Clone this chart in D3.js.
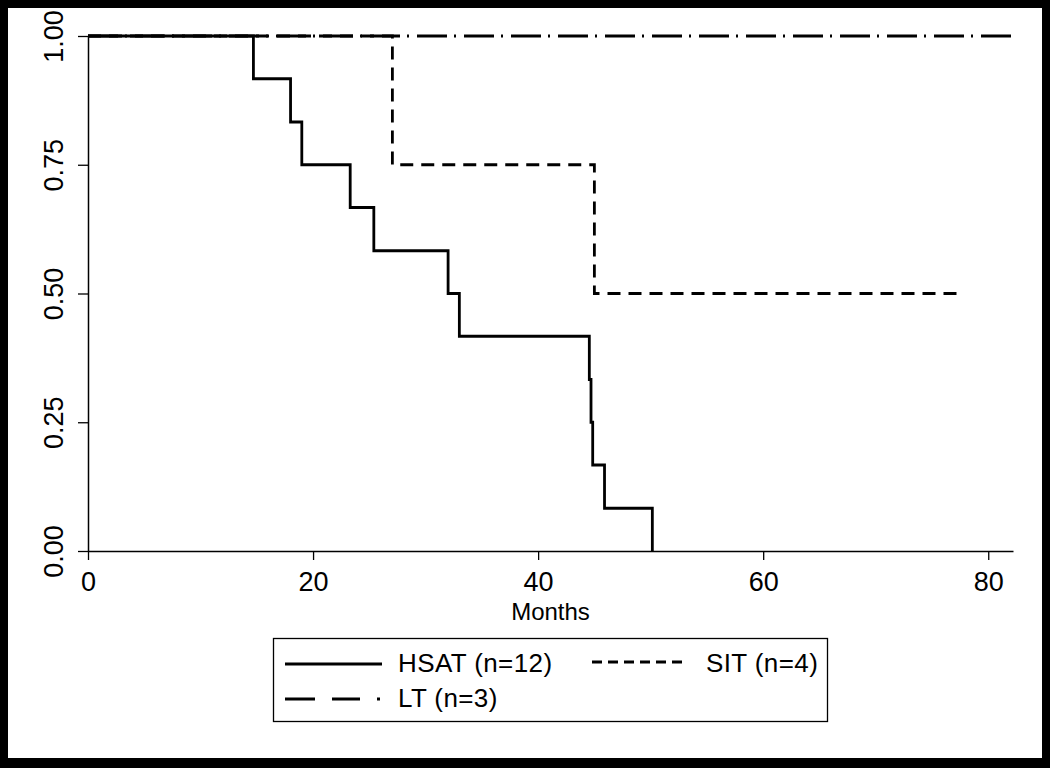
<!DOCTYPE html>
<html>
<head>
<meta charset="utf-8">
<script src="https://cdn.jsdelivr.net/npm/d3@7"></script>
<style>
  html, body { margin: 0; padding: 0; background: #000; }
  svg { display: block; }
  text { font-family: Arial, "Liberation Sans", sans-serif; fill: #000; }
</style>
</head>
<body>
<div id="chart"></div>
<script>
// Kaplan-Meier step data (months, survival)
var hsatTimes = [0, 14.7, 18.0, 19.0, 23.3, 25.4, 32.0, 33.0, 44.55, 44.7, 44.85, 45.9, 50.15];
var hsatSurv  = [1, 0.917, 0.833, 0.75, 0.667, 0.583, 0.5, 0.417, 0.333, 0.25, 0.167, 0.083, 0];
var sitTimes  = [0, 27.05, 45.0, 77.8];
var sitSurv   = [1, 0.75, 0.5, 0.5];
var ltTimes   = [0, 82.2];
var ltSurv    = [1, 1];

var xTicks = [0, 20, 40, 60, 80];
var yTicks = [0, 0.25, 0.5, 0.75, 1];
var legendLabels = ['HSAT (n=12)', 'SIT (n=4)', 'LT (n=3)'];

var W = 1050, H = 768;
var svg = d3.select('#chart').append('svg').attr('width', W).attr('height', H);

// white canvas inside black frame
svg.append('rect').attr('x', 8).attr('y', 8).attr('width', 1034).attr('height', 750).attr('fill', '#fff');

var x = d3.scaleLinear().domain([0, 82.2]).range([88, 1013]);
var y = d3.scaleLinear().domain([0, 1]).range([551, 36]);

// axes
var xAxis = svg.append('g').attr('transform', 'translate(0,551)')
  .call(d3.axisBottom(x).tickValues(xTicks).tickSize(9).tickSizeOuter(0).tickPadding(6));
xAxis.select('.domain').attr('stroke', '#000').attr('stroke-width', 1.5);
xAxis.selectAll('.tick line').attr('stroke', '#000').attr('stroke-width', 1.3);
xAxis.selectAll('.tick text').attr('font-size', 27).attr('font-family', 'Arial, "Liberation Sans", sans-serif')
  .attr('fill', '#000').attr('dy', null).attr('y', 40);

var yAxis = svg.append('g').attr('transform', 'translate(88,0)')
  .call(d3.axisLeft(y).tickValues(yTicks).tickSize(10).tickSizeOuter(0).tickFormat(d3.format('.2f')));
yAxis.select('.domain').attr('stroke', '#000').attr('stroke-width', 1.5);
yAxis.selectAll('.tick line').attr('stroke', '#000').attr('stroke-width', 1.3);
yAxis.selectAll('.tick text')
  .attr('font-size', 27).attr('font-family', 'Arial, "Liberation Sans", sans-serif').attr('fill', '#000')
  .attr('x', null).attr('dy', null)
  .attr('text-anchor', 'middle')
  .attr('transform', 'translate(-25,0) rotate(-90)');

svg.append('text').attr('x', 550.5).attr('y', 620).attr('text-anchor', 'middle')
  .attr('font-size', 24).text('Months');

// curves
var line = d3.line()
  .x(function (d) { return x(d[0]); })
  .y(function (d) { return y(d[1]); })
  .curve(d3.curveStepAfter);

function pts(t, s) { return t.map(function (v, i) { return [v, s[i]]; }); }

var series = [
  { data: pts(ltTimes, ltSurv), dash: '30,7,2,8' },
  { data: pts(sitTimes, sitSurv), dash: '13,8' },
  { data: pts(hsatTimes, hsatSurv), dash: null }
];

svg.selectAll('path.km').data(series).join('path')
  .attr('class', 'km')
  .attr('d', function (d) { return line(d.data); })
  .attr('fill', 'none')
  .attr('stroke', '#000')
  .attr('stroke-width', 2.8)
  .attr('stroke-dasharray', function (d) { return d.dash; });

// legend
var lg = svg.append('g');
lg.append('rect').attr('x', 273.5).attr('y', 638.5).attr('width', 554).attr('height', 83)
  .attr('fill', '#fff').attr('stroke', '#000').attr('stroke-width', 1.3);

var legendItems = [
  { label: legendLabels[0], x1: 285, x2: 382, ly: 664, tx: 398, ty: 672, dash: null },
  { label: legendLabels[1], x1: 592, x2: 687, ly: 662, tx: 706, ty: 672, dash: '10,6' },
  { label: legendLabels[2], x1: 285, x2: 380, ly: 699, tx: 398, ty: 707, dash: '30,17,28,17,3' }
];
legendItems.forEach(function (it) {
  lg.append('line').attr('x1', it.x1).attr('x2', it.x2).attr('y1', it.ly).attr('y2', it.ly)
    .attr('stroke', '#000').attr('stroke-width', 2.8).attr('stroke-dasharray', it.dash);
  lg.append('text').attr('x', it.tx).attr('y', it.ty).attr('font-size', 26)
    .attr('letter-spacing', 0.4).text(it.label);
});
</script>
</body>
</html>
